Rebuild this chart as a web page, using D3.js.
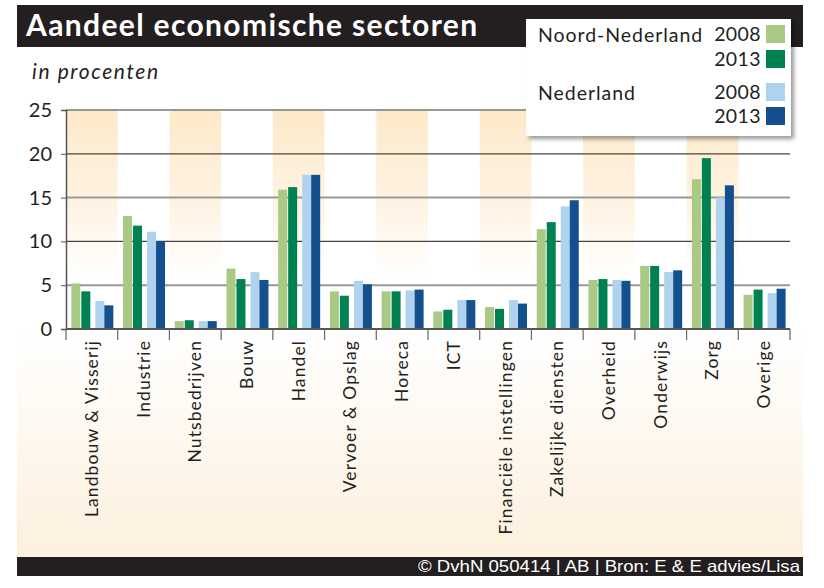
<!DOCTYPE html>
<html><head><meta charset="utf-8">
<script src="https://cdn.jsdelivr.net/npm/d3@7"></script>
<style>
html,body{margin:0;padding:0;background:#fff;}
svg{display:block;}
</style></head>
<body>
<svg id="chart" width="824" height="588"></svg>
<script>
// ---- data ----
const categories = ["Landbouw & Visserij","Industrie","Nutsbedrijven","Bouw","Handel","Vervoer & Opslag","Horeca","ICT","Financiële instellingen","Zakelijke diensten","Overheid","Onderwijs","Zorg","Overige"];
const noordNL2008 = [5.2, 12.9, 0.9, 6.9, 15.9, 4.3, 4.3, 2.0, 2.5, 11.4, 5.6, 7.2, 17.1, 3.9];
const noordNL2013 = [4.3, 11.8, 1.0, 5.7, 16.2, 3.8, 4.3, 2.2, 2.3, 12.2, 5.7, 7.2, 19.5, 4.5];
const nl2008      = [3.2, 11.1, 0.9, 6.5, 17.6, 5.5, 4.4, 3.3, 3.3, 14.0, 5.6, 6.5, 15.0, 4.1];
const nl2013      = [2.7, 10.0, 0.9, 5.6, 17.6, 5.1, 4.5, 3.3, 2.9, 14.7, 5.5, 6.7, 16.4, 4.6];
const yTicks = [0, 5, 10, 15, 20, 25];
const regions = ["Noord-Nederland","Nederland"];
const years = ["2008","2013","2008","2013"];
const seriesColors = ["#a9c985","#008152","#afd3ef","#144f8e"];
const title = "Aandeel economische sectoren";
const subtitle = "in procenten";
const footer = "© DvhN 050414 | AB | Bron: E & E advies/Lisa";

const series = [noordNL2008, noordNL2013, nl2008, nl2013];

const svg = d3.select("#chart");
const FONT = "Lato, 'Open Sans', sans-serif";
const INK = "#231f20";

// defs
const defs = svg.append("defs");
const bandGrad = defs.append("linearGradient").attr("id","bandGrad").attr("x1",0).attr("y1",0).attr("x2",0).attr("y2",1);
bandGrad.append("stop").attr("offset","0%").attr("stop-color","#fde9c9");
bandGrad.append("stop").attr("offset","55%").attr("stop-color","#fef3e2");
bandGrad.append("stop").attr("offset","100%").attr("stop-color","#ffffff");
const labelGrad = defs.append("linearGradient").attr("id","labelGrad").attr("x1",0).attr("y1",0).attr("x2",0).attr("y2",1);
labelGrad.append("stop").attr("offset","0%").attr("stop-color","#ffffff");
labelGrad.append("stop").attr("offset","100%").attr("stop-color","#fdf0dd");
const shadow = defs.append("filter").attr("id","shadow").attr("x","-10%").attr("y","-10%").attr("width","130%").attr("height","140%");
shadow.append("feDropShadow").attr("dx",3).attr("dy",3).attr("stdDeviation",2).attr("flood-color","#000").attr("flood-opacity",0.4);

// scales
const x = d3.scaleBand().domain(categories).range([66, 790]).padding(0);
const y = d3.scaleLinear().domain([0, 25]).range([329, 110]);
const subOffsets = [0.103, 0.296, 0.567, 0.741];
const subWidth = 0.174;

// label area background
svg.append("rect").attr("x",17).attr("y",332).attr("width",786).attr("height",225).attr("fill","url(#labelGrad)");

// alternating bands
svg.append("g").selectAll("rect").data(categories.filter((d,i)=>i%2===0)).join("rect")
  .attr("x", d=>x(d)).attr("y", y(25)).attr("width", x.bandwidth()).attr("height", y(6)-y(25))
  .attr("fill","url(#bandGrad)");

// gridlines
const gridStyle = {0:["#555",2],5:["#999",2],10:["#444",1.3],15:["#999",2],20:["#444",1.3],25:["#777",1.3]};
svg.append("g").selectAll("line").data(yTicks).join("line")
  .attr("x1",66).attr("x2",790).attr("y1",d=>y(d)).attr("y2",d=>y(d))
  .attr("stroke",d=>gridStyle[d][0]).attr("stroke-width",d=>gridStyle[d][1]);

// y axis
const yAxis = d3.axisLeft(y).tickValues(yTicks).tickSize(5).tickPadding(9);
const yg = svg.append("g").attr("transform","translate(66,0)").call(yAxis);
yg.select(".domain").attr("stroke","#555").attr("stroke-width",1.5);
yg.selectAll(".tick line").attr("stroke","#555");
yg.selectAll(".tick text").attr("font-family",FONT).attr("font-size",20).attr("fill",INK);

// bars
series.forEach((vals, si) => {
  svg.append("g").selectAll("rect").data(vals).join("rect")
    .attr("x",(d,i)=>x(categories[i]) + subOffsets[si]*x.bandwidth())
    .attr("width", subWidth*x.bandwidth())
    .attr("y", d=>y(d)).attr("height", d=>y(0)-y(d))
    .attr("fill", seriesColors[si]);
});

// baseline over bars
svg.append("line").attr("x1",66).attr("x2",790).attr("y1",y(0)).attr("y2",y(0)).attr("stroke","#555").attr("stroke-width",2);

// x axis labels
const xAxis = d3.axisBottom(x).tickSize(0).tickPadding(0);
const xg = svg.append("g").attr("transform",`translate(0,${y(0)})`).call(xAxis);
xg.select(".domain").remove();
xg.selectAll(".tick text")
  .attr("font-family",FONT).attr("font-size",17.5).attr("fill",INK).attr("letter-spacing",1.1)
  .attr("text-anchor","end").attr("dy",null)
  .attr("transform","translate(6,11) rotate(-90)");
// boundary ticks
const bounds = categories.map(d=>x(d)).concat([x.range()[1]]);
svg.append("g").selectAll("line").data(bounds).join("line")
  .attr("x1",d=>d).attr("x2",d=>d)
  .attr("y1",y(0)).attr("y2",y(0)+11).attr("stroke","#666").attr("stroke-width",1.2);

// title bar
svg.append("rect").attr("x",17).attr("y",5).attr("width",786).attr("height",42).attr("fill",INK);
svg.append("text").attr("x",26).attr("y",36).attr("font-family",FONT).attr("font-weight",700)
  .attr("font-size",30).attr("letter-spacing",1.35).attr("fill","#fff").text(title);
// subtitle
svg.append("text").attr("x",32).attr("y",79).attr("font-family",FONT).attr("font-style","italic")
  .attr("font-size",21).attr("letter-spacing",1.6).attr("fill",INK).text(subtitle);

// legend
const lg = svg.append("g");
lg.append("rect").attr("x",526).attr("y",19).attr("width",265).attr("height",117).attr("fill","#fff").attr("filter","url(#shadow)");
const swY = [25, 50, 83, 107];
swY.forEach((sy,i)=>{
  lg.append("rect").attr("x",766).attr("y",sy).attr("width",19).attr("height",18).attr("fill",seriesColors[i]);
  lg.append("text").attr("x",761).attr("y",sy+16).attr("text-anchor","end").attr("font-family",FONT)
    .attr("font-size",19.5).attr("letter-spacing",0.4).attr("fill",INK).text(years[i]);
});
lg.append("text").attr("x",538).attr("y",42).attr("font-family",FONT).attr("font-size",19.5).attr("letter-spacing",0.95).attr("fill",INK).text(regions[0]);
lg.append("text").attr("x",538).attr("y",100).attr("font-family",FONT).attr("font-size",19.5).attr("letter-spacing",0.95).attr("fill",INK).text(regions[1]);

// footer
svg.append("rect").attr("x",17).attr("y",557).attr("width",786).attr("height",19).attr("fill",INK);
svg.append("text").attr("x",800).attr("y",572).attr("text-anchor","end")
  .attr("font-family","'Liberation Sans', Arial, sans-serif")
  .attr("font-size",16.5).attr("textLength",382).attr("lengthAdjust","spacingAndGlyphs")
  .attr("fill","#fff").text(footer);
</script>
</body></html>
